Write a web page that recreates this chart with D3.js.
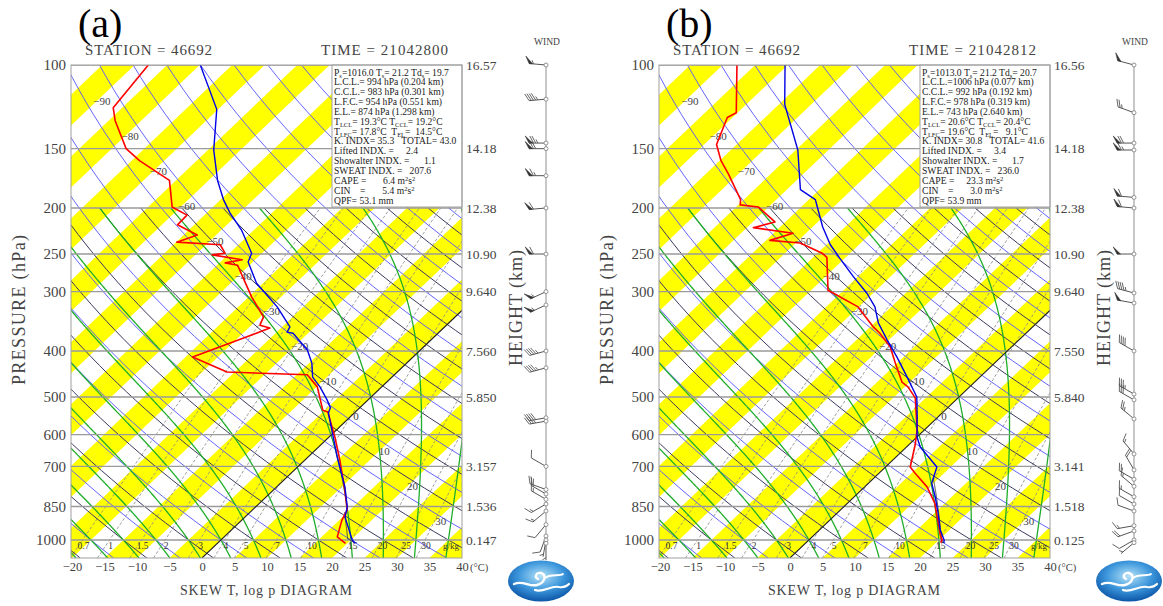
<!DOCTYPE html>
<html>
<head>
<meta charset="UTF-8">
<title>SKEW T, log p DIAGRAM</title>
<script src="https://cdn.jsdelivr.net/npm/d3@7"></script>
<style>
  body { margin: 0; background: #fff; }
  svg text { font-family: "Liberation Serif", "Times New Roman", serif; fill: #3a3a3a; }
</style>
</head>
<body>
<svg id="chart" width="1163" height="606"></svg>
<script>
// ---------------- data ----------------
const pressureTicks = [100, 150, 200, 250, 300, 400, 500, 600, 700, 850, 1000];
const heightLevels = [100, 150, 200, 250, 300, 400, 500, 700, 850, 1000];
const heightA = ["16.57", "14.18", "12.38", "10.90", "9.640", "7.560", "5.850", "3.157", "1.536", "0.147"];
const heightB = ["16.56", "14.18", "12.38", "10.90", "9.640", "7.550", "5.840", "3.141", "1.518", "0.125"];
const tempTicks = [-20, -15, -10, -5, 0, 5, 10, 15, 20, 25, 30, 35, 40];
const mixRatios = [0.7, 1, 1.5, 2, 3, 4, 5, 7, 10, 15, 20, 25, 30];
const isoLabels = [-90, -80, -70, -60, -50, -40, -30, -20, -10, 0, 10, 20, 30];

// (a) 21042800
const tempA_p = [1016, 1000, 895, 852, 773, 669, 540, 527, 507, 476, 454, 424, 398, 367, 365, 356, 323, 288, 260, 249, 223, 205, 192, 175, 151, 124, 100];
const tempA_t = [21.2, 20.2, 15.4, 14.1, 10.5, 4.5, -4.0, -4.5, -6.3, -9.5, -12.2, -14.6, -17.4, -22.3, -23.4, -23.8, -29.0, -36.0, -40.7, -41.6, -46.8, -51.4, -54.6, -58.6, -64.1, -70.2, -79.9];
const dewA_p = [1016, 985, 908, 865, 785, 679, 607, 538, 533, 476, 449, 443, 412, 358, 353, 339, 308, 279, 264, 261, 257, 251, 249, 239, 236, 228, 217, 207, 199, 175, 159, 150, 131, 123, 100];
const dewA_t = [19.7, 17.4, 15.4, 14.6, 11.0, 5.4, 0.9, -4.2, -5.3, -9.9, -13.4, -26.2, -33.9, -26.7, -28.7, -29.5, -34.5, -39.2, -41.8, -44.1, -42.0, -47.4, -45.7, -47.8, -54.9, -52.9, -57.6, -57.7, -61.3, -66.0, -73.8, -77.8, -84.0, -86.4, -87.9];
const parcelA = [1016, 21.2, 994, 19.3, 874];   // Ps, Ts, LCL, T_LCL, EL
const windA_p = [100, 118, 146, 150, 171, 200, 250, 300, 320, 400, 434, 553, 562, 700, 783, 800, 821, 840, 869, 928, 981, 1000, 1016];
const windA_dir = [275, 265, 270, 270, 270, 265, 270, 245, 245, 255, 255, 260, 260, 300, 290, 300, 300, 240, 230, 220, 200, 190, 180];
const windA_spd = [55, 45, 75, 70, 65, 60, 60, 55, 55, 45, 45, 40, 35, 10, 20, 20, 15, 15, 15, 10, 10, 5, 5];
const infoA = [
  "P_{s}=1016.0 T_{s}= 21.2 Td_{s}= 19.7",
  "L.C.L.= 994 hPa (0.204 km)",
  "C.C.L.= 983 hPa (0.301 km)",
  "L.F.C.= 954 hPa (0.551 km)",
  "E.L.= 874 hPa (1.298 km)",
  "T_{LCL}= 19.3°C T_{CCL}= 19.2°C",
  "T_{LFC}= 17.8°C  T_{EL}=  14.5°C",
  "K. INDX= 35.3   TOTAL= 43.0",
  "Lifted INDX. =     2.4",
  "Showalter INDX. =      1.1",
  "SWEAT INDX. =   207.6",
  "CAPE =       6.4 m^{2}s^{2}",
  "CIN    =       5.4 m^{2}s^{2}",
  "QPF= 53.1 mm"
];

// (b) 21042812
const tempB_p = [1013, 1000, 953, 877, 812, 759, 702, 637, 607, 551, 500, 454, 412, 379, 349, 323, 302, 279, 255, 239, 219, 199, 192, 183, 151, 121, 100];
const tempB_t = [21.2, 20.8, 18.6, 15.5, 12.5, 9.7, 7.9, 2.1, 0.0, -3.2, -6.5, -11.2, -16.0, -20.3, -24.4, -27.5, -31.0, -35.7, -40.8, -44.4, -48.5, -52.5, -54.0, -57.9, -64.7, -74.1, -80.4];
const dewB_p = [1013, 1000, 976, 908, 836, 773, 723, 702, 631, 587, 502, 476, 465, 424, 392, 367, 356, 331, 323, 305, 298, 254, 249, 237, 234, 226, 220, 214, 199, 197, 192, 170, 159, 147, 129, 126, 100];
const dewB_t = [20.7, 20.5, 19.4, 16.6, 13.4, 9.6, 5.5, 3.8, 1.0, -1.1, -6.6, -9.5, -11.2, -15.3, -18.7, -22.5, -24.5, -28.7, -30.1, -35.3, -37.4, -42.9, -44.3, -49.3, -54.4, -52.0, -59.0, -56.6, -61.6, -64.7, -65.5, -71.4, -74.8, -78.1, -80.8, -80.2, -87.8];
const parcelB = [1013, 21.2, 1006, 20.6, 743];
const windB_p = [100, 126, 146, 151, 190, 200, 250, 302, 317, 400, 493, 507, 556, 659, 712, 745, 771, 811, 840, 869, 933, 957, 1000, 1013];
const windB_dir = [285, 290, 270, 270, 275, 275, 270, 285, 280, 300, 300, 300, 310, 320, 330, 300, 310, 300, 300, 290, 260, 250, 240, 230];
const windB_spd = [50, 25, 70, 65, 60, 60, 50, 45, 50, 40, 35, 30, 25, 15, 20, 20, 15, 15, 10, 10, 15, 20, 10, 5];
const infoB = [
  "P_{s}=1013.0 T_{s}= 21.2 Td_{s}= 20.7",
  "L.C.L.=1006 hPa (0.077 km)",
  "C.C.L.= 992 hPa (0.192 km)",
  "L.F.C.= 978 hPa (0.319 km)",
  "E.L.= 743 hPa (2.640 km)",
  "T_{LCL}= 20.6°C T_{CCL}= 20.4°C",
  "T_{LFC}= 19.6°C  T_{EL}=   9.1°C",
  "K. INDX= 30.8   TOTAL= 41.6",
  "Lifted INDX. =     3.4",
  "Showalter INDX. =      1.7",
  "SWEAT INDX. =   236.0",
  "CAPE =     23.3 m^{2}s^{2}",
  "CIN    =       3.0 m^{2}s^{2}",
  "QPF= 53.9 mm"
];

// ---------------- frame & scales ----------------
const plotL = 71, plotR = 462, plotT = 65, plotB = 558;
const skew = 1.05;
const y = d3.scaleLog().domain([100, 1000]).range([65, 540]);
const xT = d3.scaleLinear().domain([-20, 40]).range([72, 462]);
const pMax = y.invert(plotB);
const X = (t, p) => xT(t) + skew * (plotB - y(p));
const line = d3.line().x(d => X(d[1], d[0])).y(d => y(d[0]));

function esat(tc) { return 6.112 * Math.exp(17.67 * tc / (tc + 243.5)); }
function dewFromMix(w, p) {
  const e = p * (w / 1000) / (0.622 + w / 1000);
  const l = Math.log(e / 6.112);
  return 243.5 * l / (17.67 - l);
}
function moistLapse(p, tk) {
  const es = esat(tk - 273.15);
  const rs = 0.622 * es / (p - es);
  return (287.04 * tk + 2.501e6 * rs) / (1005.7 + 2.501e6 * 2.501e6 * rs * 0.622 / (287.04 * tk * tk)) / p;
}
function moistPath(t0, p0, p1) {
  const pts = [[p0, t0]];
  let tk = t0 + 273.15, p = p0;
  const step = p1 < p0 ? -2 : 2;
  while ((step < 0 && p > p1) || (step > 0 && p < p1)) {
    let h = step;
    if (step < 0 && p + h < p1) h = p1 - p;
    if (step > 0 && p + h > p1) h = p1 - p;
    const k1 = moistLapse(p, tk);
    const k2 = moistLapse(p + h, tk + h * k1);
    tk += h * (k1 + k2) / 2;
    p += h;
    pts.push([p, tk - 273.15]);
  }
  return pts;
}
function logLevels(p0, p1, n) {
  return d3.range(n + 1).map(i => Math.exp(Math.log(p0) + (Math.log(p1) - Math.log(p0)) * i / n));
}

const svg = d3.select("#chart");
const defs = svg.append("defs");
defs.append("clipPath").attr("id", "plotClip")
  .append("rect").attr("x", plotL).attr("y", plotT).attr("width", plotR - plotL).attr("height", plotB - plotT);
const grad = defs.append("radialGradient").attr("id", "logoGrad").attr("cx", "50%").attr("cy", "38%").attr("r", "62%");
grad.append("stop").attr("offset", "0%").attr("stop-color", "#b5e2f7");
grad.append("stop").attr("offset", "55%").attr("stop-color", "#3d97dc");
grad.append("stop").attr("offset", "100%").attr("stop-color", "#0c56a8");

// text with _{sub} and ^{sup} pieces
function richText(sel, str) {
  const parts = str.split(/(_\{[^}]*\}|\^\{[^}]*\})/).filter(s => s.length);
  let shift = 0;
  parts.forEach(s => {
    let target = 0, txt = s, small = false;
    if (s.startsWith("_{")) { target = 2; txt = s.slice(2, -1); small = true; }
    else if (s.startsWith("^{")) { target = -3; txt = s.slice(2, -1); small = true; }
    const ts = sel.append("tspan").attr("dy", target - shift).text(txt);
    if (small) ts.attr("font-size", "6.5px");
    shift = target;
  });
}

function barb(g, cx, cy, dir, spd) {
  const r = dir * Math.PI / 180;
  const ux = Math.sin(r), uy = -Math.cos(r);
  const L = 17, a = 62 * Math.PI / 180;
  const fx = ux * Math.cos(a) - uy * Math.sin(a), fy = ux * Math.sin(a) + uy * Math.cos(a);
  const P = d => [cx + ux * (L - d), cy + uy * (L - d)];
  g.append("line").attr("x1", cx).attr("y1", cy).attr("x2", P(0)[0]).attr("y2", P(0)[1])
    .attr("stroke", "#555").attr("stroke-width", 1);
  let s = Math.round(spd / 5) * 5;
  const n50 = Math.floor(s / 50); s -= n50 * 50;
  const n10 = Math.floor(s / 10); s -= n10 * 10;
  const n5 = s >= 5 ? 1 : 0;
  let d = 0;
  for (let i = 0; i < n50; i++) {
    const a0 = P(d), a1 = P(d + 3.5);
    g.append("path").attr("d", `M${a0[0]},${a0[1]}L${a0[0] + fx * 8},${a0[1] + fy * 8}L${a1[0]},${a1[1]}Z`)
      .attr("fill", "#333").attr("stroke", "#333").attr("stroke-width", 0.6);
    d += 4.5;
  }
  for (let i = 0; i < n10; i++) {
    const a0 = P(d);
    g.append("line").attr("x1", a0[0]).attr("y1", a0[1]).attr("x2", a0[0] + fx * 8).attr("y2", a0[1] + fy * 8)
      .attr("stroke", "#555").attr("stroke-width", 0.9);
    d += 2.2;
  }
  if (n5) {
    if (n50 + n10 === 0) d = 2.5;
    const a0 = P(d);
    g.append("line").attr("x1", a0[0]).attr("y1", a0[1]).attr("x2", a0[0] + fx * 4).attr("y2", a0[1] + fy * 4)
      .attr("stroke", "#555").attr("stroke-width", 0.9);
  }
}

const panels = [
  { off: 0, tag: "(a)", time: "21042800", tp: tempA_p, tt: tempA_t, dp: dewA_p, dt: dewA_t, info: infoA,
    hts: heightA, wp: windA_p, wd: windA_dir, ws: windA_spd, parcel: parcelA },
  { off: 588, tag: "(b)", time: "21042812", tp: tempB_p, tt: tempB_t, dp: dewB_p, dt: dewB_t, info: infoB,
    hts: heightB, wp: windB_p, wd: windB_dir, ws: windB_spd, parcel: parcelB }
];

panels.forEach(cfg => {
  const g = svg.append("g").attr("transform", `translate(${cfg.off},0)`);
  const plot = g.append("g").attr("clip-path", "url(#plotClip)");

  plot.append("rect").attr("x", plotL).attr("y", plotT).attr("width", plotR - plotL).attr("height", plotB - plotT).attr("fill", "#fff");

  // yellow isotherm bands (5 degC wide, every 10 degC)
  d3.range(-140, 60, 10).forEach(t => {
    const pts = [[X(t - 5, pMax), plotB], [X(t, pMax), plotB], [X(t, 100), plotT], [X(t - 5, 100), plotT]];
    plot.append("path").attr("d", "M" + pts.join("L") + "Z").attr("fill", "#ffff00");
  });

  // mixing ratio lines
  mixRatios.forEach(w => {
    const pts = logLevels(pMax, 200, 30).map(p => [p, dewFromMix(w, p)]);
    plot.append("path").attr("d", line(pts)).attr("fill", "none")
      .attr("stroke", "#888").attr("stroke-width", 0.8).attr("stroke-dasharray", "3,2");
  });

  // dry adiabats
  d3.range(-30, 185, 5).forEach(t1000 => {
    const major = t1000 % 10 === 0;
    const th = t1000 + 273.15;
    const pts = logLevels(pMax, major ? 100 : 200, 40).map(p => [p, th * Math.pow(p / 1000, 0.2857) - 273.15]);
    plot.append("path").attr("d", line(pts)).attr("fill", "none")
      .attr("stroke", major ? "#5252ff" : "#3a3a60").attr("stroke-width", major ? 0.9 : 1);
  });

  // moist adiabats
  d3.range(-30, 45, 5).forEach(t1000 => {
    const pts = moistPath(t1000, 1000, pMax).reverse().concat(moistPath(t1000, 1000, 200).slice(1));
    plot.append("path").attr("d", line(pts)).attr("fill", "none")
      .attr("stroke", "#1fae2a").attr("stroke-width", 1.3);
  });

  // isobars
  pressureTicks.forEach(p => {
    plot.append("line").attr("x1", plotL).attr("x2", plotR).attr("y1", y(p)).attr("y2", y(p))
      .attr("stroke", "#9a9a9a").attr("stroke-width", 1.4);
  });

  // 0 degC isotherm
  plot.append("line").attr("x1", X(0, pMax)).attr("y1", plotB).attr("x2", X(0, 100)).attr("y2", plotT)
    .attr("stroke", "#222").attr("stroke-width", 1.1);

  // isotherm labels
  isoLabels.forEach(t => {
    const yy = 416 + 3.5 * t;
    plot.append("text").attr("x", xT(t) + skew * (plotB - yy) + 5).attr("y", yy).attr("dy", "0.35em")
      .attr("text-anchor", "middle").attr("font-size", "11px").style("fill", "#444")
      .text(d3.format("d")(t).replace("-", "\u2212"));
  });

  // mixing ratio labels
  mixRatios.forEach(w => {
    plot.append("text").attr("x", X(dewFromMix(w, 1000), 1000) + 1).attr("y", 549)
      .attr("text-anchor", "middle").attr("font-size", "9.5px").style("fill", "#333").text(w);
  });
  plot.append("text").attr("x", 443).attr("y", 549).attr("font-size", "9px").style("fill", "#333").text("g/kg");

  // parcel path
  const [ps, ts, plcl, tlcl, pel] = cfg.parcel;
  const dry = logLevels(ps, plcl, 6).map(p => [p, (ts + 273.15) * Math.pow(p / ps, 0.2857) - 273.15]);
  plot.append("path").attr("d", line(dry.concat(moistPath(tlcl, plcl, pel)))).attr("fill", "none")
    .attr("stroke", "#333").attr("stroke-width", 0.9);

  // dew point and temperature
  plot.append("path").attr("d", line(cfg.dp.map((p, i) => [p, cfg.dt[i]]))).attr("fill", "none")
    .attr("stroke", "#ff0000").attr("stroke-width", 1.6).attr("stroke-linejoin", "round");
  plot.append("path").attr("d", line(cfg.tp.map((p, i) => [p, cfg.tt[i]]))).attr("fill", "none")
    .attr("stroke", "#0000e6").attr("stroke-width", 1.4).attr("stroke-linejoin", "round");

  // info box
  g.append("rect").attr("x", 332).attr("y", plotT).attr("width", plotR - 332).attr("height", 142)
    .attr("fill", "#fff").attr("stroke", "#a0a0a0").attr("stroke-width", 1);
  cfg.info.forEach((s, i) => {
    const t = g.append("text").attr("x", 334).attr("y", 75.5 + i * 9.85).attr("font-size", "9.6px")
      .style("fill", "#222").style("white-space", "pre");
    richText(t, s);
  });

  // frame
  g.append("rect").attr("x", plotL).attr("y", plotT).attr("width", plotR - plotL).attr("height", plotB - plotT)
    .attr("fill", "none").attr("stroke", "#a0a0a0").attr("stroke-width", 1);

  // axes
  const la = g.append("g").attr("transform", `translate(${plotL},0)`)
    .call(d3.axisLeft(y).tickValues(pressureTicks).tickFormat(d3.format("d")).tickSize(0).tickPadding(5));
  la.select(".domain").remove();
  la.selectAll("text").attr("font-size", "15px").attr("font-family", null).style("fill", "#444");

  const ba = g.append("g").attr("transform", `translate(0,${plotB})`)
    .call(d3.axisBottom(xT).tickValues(tempTicks).tickSize(0).tickPadding(4));
  ba.select(".domain").remove();
  ba.selectAll("text").attr("font-size", "12.5px").attr("font-family", null).style("fill", "#444");
  g.append("text").attr("x", plotR + 8).attr("y", plotB + 13).attr("font-size", "10.5px").style("fill", "#444").text("(\u00b0C)");

  heightLevels.forEach((p, i) => {
    g.append("text").attr("x", plotR + 4).attr("y", y(p)).attr("dy", "0.35em").attr("font-size", "13.5px")
      .style("fill", "#444").text(cfg.hts[i]);
  });

  g.append("text").attr("transform", "translate(25,310) rotate(-90)").attr("text-anchor", "middle")
    .attr("font-size", "18px").attr("textLength", 150).attr("lengthAdjust", "spacing").style("fill", "#444").text("PRESSURE (hPa)");
  g.append("text").attr("transform", "translate(522,308) rotate(-90)").attr("text-anchor", "middle")
    .attr("font-size", "18px").attr("textLength", 116).attr("lengthAdjust", "spacing").style("fill", "#444").text("HEIGHT (km)");

  // titles
  g.append("text").attr("x", 78).attr("y", 37).attr("font-size", "40px").style("fill", "#000").text(cfg.tag);
  g.append("text").attr("x", 85).attr("y", 55).attr("font-size", "15px").attr("textLength", 127)
    .attr("lengthAdjust", "spacing").style("fill", "#444").text("STATION = 46692");
  g.append("text").attr("x", 321).attr("y", 55).attr("font-size", "15px").attr("textLength", 127)
    .attr("lengthAdjust", "spacing").style("fill", "#444").text("TIME = " + cfg.time);
  g.append("text").attr("x", 180).attr("y", 595).attr("font-size", "14px").attr("textLength", 172)
    .attr("lengthAdjust", "spacing").style("fill", "#444").text("SKEW T, log p DIAGRAM");

  // wind column
  const wx = 546;
  const wg = g.append("g");
  wg.append("text").attr("x", wx + 1).attr("y", 45).attr("text-anchor", "middle").attr("font-size", "9.5px")
    .style("fill", "#444").text("WIND");
  wg.append("line").attr("x1", wx).attr("x2", wx).attr("y1", y(100) - 2).attr("y2", y(d3.max(cfg.wp)))
    .attr("stroke", "#999").attr("stroke-width", 1.1);
  cfg.wp.forEach((p, i) => barb(wg, wx, y(p), cfg.wd[i], cfg.ws[i]));
  cfg.wp.forEach(p => {
    wg.append("circle").attr("cx", wx).attr("cy", y(p)).attr("r", 2).attr("fill", "#fff")
      .attr("stroke", "#888").attr("stroke-width", 0.9);
  });

  // logo
  const lg = g.append("g").attr("transform", "translate(541,581)");
  lg.append("ellipse").attr("rx", 33).attr("ry", 20.5).attr("fill", "url(#logoGrad)");
  lg.append("path").attr("d", "M-27,3 C-18,-1 -12,6 -4,4 C4,2 6,-6 0,-8 C-5,-9 -7,-4 -3,-2")
    .attr("fill", "none").attr("stroke", "#fff").attr("stroke-width", 2.4).attr("stroke-linecap", "round");
  lg.append("path").attr("d", "M-6,9 C2,12 10,4 18,6 C23,7 26,5 28,3")
    .attr("fill", "none").attr("stroke", "#fff").attr("stroke-width", 2.2).attr("stroke-linecap", "round");
  lg.append("path").attr("d", "M4,-3 C10,-8 18,-4 22,-7")
    .attr("fill", "none").attr("stroke", "#fff").attr("stroke-width", 1.8).attr("stroke-linecap", "round");
});
</script>
</body>
</html>
